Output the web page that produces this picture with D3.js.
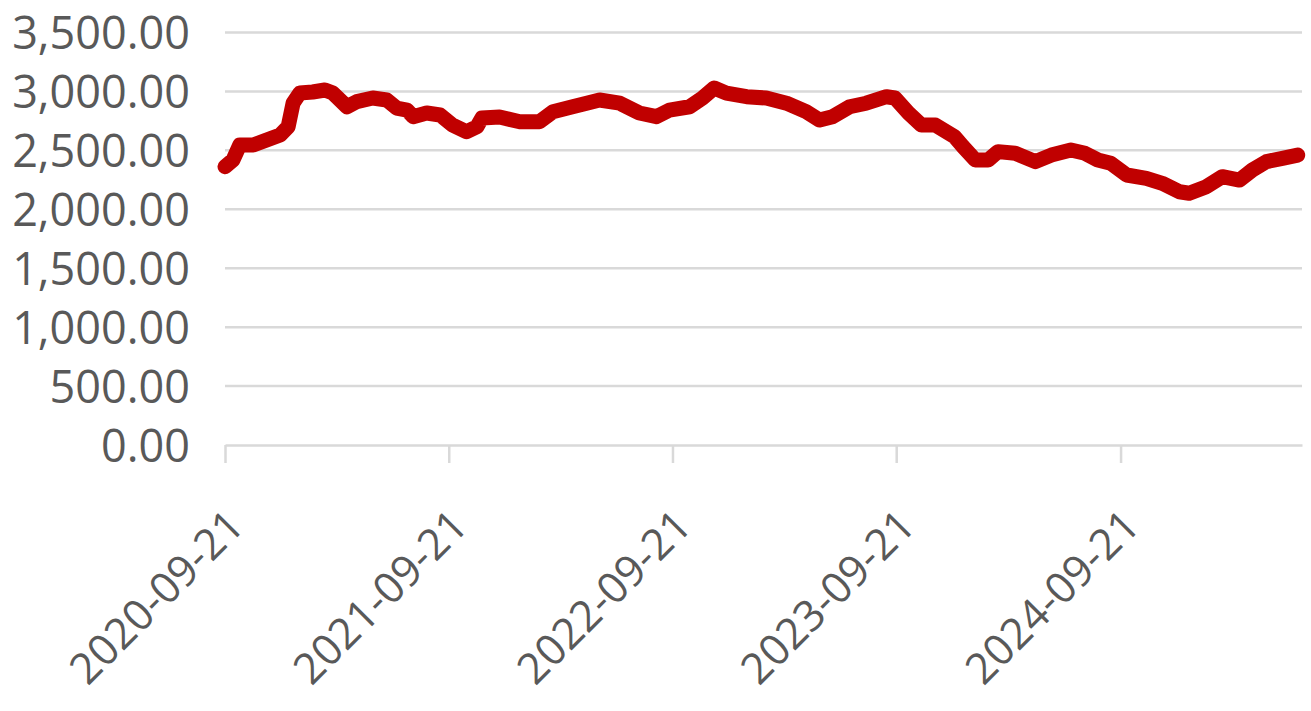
<!DOCTYPE html>
<html><head><meta charset="utf-8">
<script src="https://cdn.jsdelivr.net/npm/d3@7"></script>
<style>
html,body{margin:0;padding:0;background:#fff;}
svg{display:block;}
</style></head>
<body>
<svg id="chart" width="1311" height="711"></svg>
<script>
const dates = ["2020-09-21","2020-10-04","2020-10-15","2020-11-06","2020-11-28","2020-12-20","2021-01-02","2021-01-10","2021-01-21","2021-02-11","2021-03-03","2021-03-16","2021-04-08","2021-04-24","2021-05-20","2021-06-12","2021-06-28","2021-07-15","2021-07-25","2021-08-16","2021-09-07","2021-09-27","2021-10-20","2021-11-06","2021-11-14","2021-12-13","2022-01-15","2022-02-16","2022-03-10","2022-04-11","2022-05-04","2022-05-25","2022-06-27","2022-07-29","2022-08-26","2022-09-16","2022-10-19","2022-11-09","2022-11-28","2022-12-18","2023-01-20","2023-02-21","2023-03-26","2023-04-27","2023-05-19","2023-06-09","2023-07-07","2023-08-03","2023-09-05","2023-09-19","2023-10-11","2023-11-01","2023-11-24","2023-12-25","2024-01-08","2024-01-28","2024-02-18","2024-03-05","2024-04-02","2024-05-05","2024-05-31","2024-07-02","2024-07-25","2024-08-15","2024-09-05","2024-10-01","2024-11-02","2024-11-28","2024-12-26","2025-01-11","2025-02-08","2025-03-06","2025-04-03","2025-04-24","2025-05-17","2025-06-12","2025-07-07"];
const values = [2361,2418,2545,2545,2588,2630,2700,2900,2986,2995,3012,2986,2870,2913,2944,2927,2859,2842,2786,2817,2800,2715,2658,2700,2774,2783,2743,2743,2828,2870,2900,2927,2900,2817,2786,2842,2870,2944,3029,2986,2955,2944,2900,2828,2757,2786,2870,2900,2955,2944,2817,2715,2715,2616,2531,2418,2418,2489,2475,2404,2460,2503,2475,2418,2390,2291,2263,2220,2149,2136,2192,2277,2248,2333,2404,2432,2460];
const yTicks = [0,500,1000,1500,2000,2500,3000,3500];
const xTickLabels = ["2020-09-21","2021-09-21","2022-09-21","2023-09-21","2024-09-21"];
const xStart = "2020-09-21", xEnd = "2025-07-14";

const parse = d3.timeParse("%Y-%m-%d");
const data = dates.map((d,i)=>({date:parse(d), value:values[i]}));

const svg = d3.select("#chart");
const x = d3.scaleTime().domain([parse(xStart), parse(xEnd)]).range([225, 1302]);
const y = d3.scaleLinear().domain([0,3500]).range([445, 32.5]);
const fmt = d3.format(",.2f");
const font = "'Open Sans', sans-serif";

// gridlines
svg.append("g").selectAll("line").data(yTicks.filter(t=>t>0)).join("line")
  .attr("x1",225).attr("x2",1302)
  .attr("y1",d=>y(d)).attr("y2",d=>y(d))
  .attr("stroke","#d9d9d9").attr("stroke-width",2.5);

// y axis labels
const yAxis = d3.axisLeft(y).tickValues(yTicks).tickFormat(fmt).tickSize(0).tickPadding(35);
const gy = svg.append("g").attr("transform","translate(225,0)").call(yAxis);
gy.select(".domain").remove();
gy.selectAll("text").attr("font-family",font).attr("font-size",45).attr("fill","#595959").attr("dy","0.36em");

// x axis
const xAxis = d3.axisBottom(x).tickValues(xTickLabels.map(parse)).tickFormat(d3.timeFormat("%Y-%m-%d")).tickSize(18).tickSizeOuter(0);
const gx = svg.append("g").attr("transform","translate(0,445)").call(xAxis);
gx.select(".domain").attr("stroke","#d9d9d9").attr("stroke-width",2.5);
gx.selectAll(".tick line").attr("stroke","#d9d9d9").attr("stroke-width",2.5);
gx.selectAll("text").attr("font-family",font).attr("font-size",43).attr("fill","#595959")
  .attr("text-anchor","end").attr("x",0).attr("y",0).attr("dy",0)
  .attr("transform","translate(21,83) rotate(-45)");

// line
const line = d3.line().x(d=>x(d.date)).y(d=>y(d.value)).curve(d3.curveLinear);
svg.append("path").datum(data).attr("d",line)
  .attr("fill","none").attr("stroke","#c00000").attr("stroke-width",15)
  .attr("stroke-linejoin","round").attr("stroke-linecap","round");
</script>
</body></html>
